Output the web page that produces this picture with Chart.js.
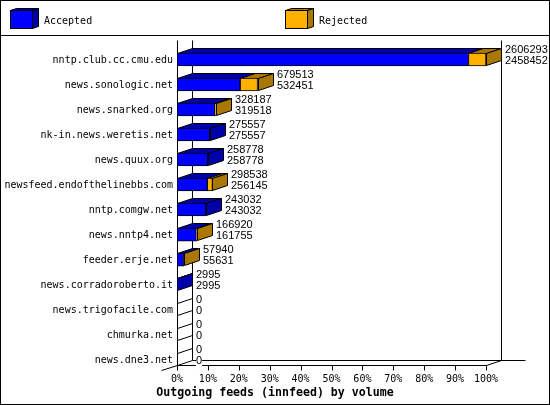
<!DOCTYPE html>
<html>
<head>
<meta charset="utf-8">
<title>Outgoing feeds</title>
<script src="https://cdn.jsdelivr.net/npm/chart.js@4"></script>
<style>
    body { margin: 0; background: #fff; }
    canvas { display: block; }
</style>
</head>
<body>
<canvas id="graficoFeeds" width="550" height="405"></canvas>
<script>
// datos
const hosts = ['nntp.club.cc.cmu.edu', 'news.sonologic.net', 'news.snarked.org', 'nk-in.news.weretis.net',
    'news.quux.org', 'newsfeed.endofthelinebbs.com', 'nntp.comgw.net', 'news.nntp4.net', 'feeder.erje.net',
    'news.corradoroberto.it', 'news.trigofacile.com', 'chmurka.net', 'news.dne3.net'];
const offered = [2606293, 679513, 328187, 275557, 258778, 298538, 243032, 166920, 57940, 2995, 0, 0, 0];
const accepted = [2458452, 532451, 319518, 275557, 258778, 256145, 243032, 161755, 55631, 2995, 0, 0, 0];
const rejected = [147841, 147062, 8669, 0, 0, 42393, 0, 5165, 2309, 0, 0, 0, 0];
const tickLabels = ['0%', '10%', '20%', '30%', '40%', '50%', '60%', '70%', '80%', '90%', '100%'];
const maxVolume = 2606293;

const AZUL = '#0000ff', AZUL_OSCURO = '#0000aa';
const NARANJA = '#ffb000', NARANJA_OSCURO = '#aa7800';
const MONO = '"DejaVu Sans Mono", monospace';
const DX = 15, DY = 5; // profundidad del efecto 3D

function linea(ctx, x1, y1, x2, y2) {
    ctx.beginPath();
    ctx.moveTo(x1 + 0.5, y1 + 0.5);
    ctx.lineTo(x2 + 0.5, y2 + 0.5);
    ctx.stroke();
}

// cara con cuatro puntos
function cara(ctx, puntos, color) {
    ctx.beginPath();
    puntos.forEach((p, i) => i ? ctx.lineTo(p[0] + 0.5, p[1] + 0.5) : ctx.moveTo(p[0] + 0.5, p[1] + 0.5));
    ctx.closePath();
    if (color) {
        ctx.fillStyle = color;
        ctx.fill();
    }
    ctx.stroke();
}

function cajaLeyenda(ctx, x, texto, claro, oscuro) {
    cara(ctx, [[x, 10], [x + 6, 8], [x + 28, 8], [x + 22, 10]], oscuro);
    cara(ctx, [[x + 22, 10], [x + 28, 8], [x + 28, 26], [x + 22, 28]], oscuro);
    ctx.fillStyle = claro;
    ctx.fillRect(x, 10, 22, 18);
    ctx.strokeRect(x + 0.5, 10.5, 22, 18);
    ctx.fillStyle = '#000';
    ctx.font = '10px ' + MONO;
    ctx.textAlign = 'left';
    ctx.textBaseline = 'middle';
    ctx.fillText(texto, x + 34, 21);
}

const barras3d = {
    id: 'barras3d',
    afterLayout(chart) {
        // el titulo va centrado en toda la imagen
        const t = chart.titleBlock;
        t.left = 0;
        t.right = chart.width;
        t.width = chart.width;
    },
    beforeDatasetsDraw(chart) {
        const ctx = chart.ctx;
        const xs = chart.scales.x;
        const x0 = Math.round(xs.getPixelForValue(0));
        const x100 = Math.round(xs.getPixelForValue(maxVolume));
        const piso = 365;
        ctx.save();
        ctx.strokeStyle = '#000';
        ctx.lineWidth = 1;

        // marco y leyenda
        ctx.strokeRect(0.5, 0.5, 549, 404);
        linea(ctx, 0, 35, 549, 35);
        cajaLeyenda(ctx, 10, chart.data.datasets[0].label, AZUL, AZUL_OSCURO);
        cajaLeyenda(ctx, 285, chart.data.datasets[1].label, NARANJA, NARANJA_OSCURO);

        // paredes y piso
        linea(ctx, x0 + DX, 40, x0 + DX, piso - DY);
        linea(ctx, x100 + DX, 40, x100 + DX, piso - DY);
        linea(ctx, x0 + DX, piso - DY, x100 + 39, piso - DY);
        linea(ctx, x0 - DX - 1, piso + DY, x0, piso);
        linea(ctx, x100, piso, x100 + DX, piso - DY);
        linea(ctx, x0, 40, x0, piso);
        linea(ctx, x0, piso, x100, piso);
        xs.ticks.forEach(t => {
            const x = Math.round(xs.getPixelForValue(t.value));
            linea(ctx, x, piso, x, piso + 5);
        });

        // caras superior y lateral de cada barra
        const metaA = chart.getDatasetMeta(0);
        hosts.forEach((h, i) => {
            const top = Math.round(metaA.data[i].y - 6.5), bottom = top + 12;
            const xA = Math.round(xs.getPixelForValue(accepted[i]));
            const xT = Math.round(xs.getPixelForValue(accepted[i] + rejected[i]));
            if (offered[i] === 0) {
                linea(ctx, x0, top, x0 + DX, top - DY);
                linea(ctx, x0, bottom, x0 + DX, bottom - DY);
                return;
            }
            cara(ctx, [[x0, top], [x0 + DX, top - DY], [xA + DX, top - DY], [xA, top]], AZUL_OSCURO);
            if (rejected[i] > 0) {
                cara(ctx, [[xA, top], [xA + DX, top - DY], [xT + DX, top - DY], [xT, top]], NARANJA_OSCURO);
            }
            cara(ctx, [[xT, top], [xT + DX, top - DY], [xT + DX, bottom - DY], [xT, bottom]],
                rejected[i] > 0 ? NARANJA_OSCURO : AZUL_OSCURO);
        });
        ctx.restore();
    },
    afterDatasetsDraw(chart) {
        const ctx = chart.ctx;
        const xs = chart.scales.x;
        const metaA = chart.getDatasetMeta(0);
        ctx.save();
        ctx.font = '11px "Liberation Sans", sans-serif';
        ctx.textAlign = 'left';
        ctx.textBaseline = 'middle';
        hosts.forEach((h, i) => {
            const x = Math.round(xs.getPixelForValue(offered[i])) + DX + 4;
            const y = metaA.data[i].y;
            [[offered[i], y - 9.5], [accepted[i], y + 1.5]].forEach(par => {
                const txt = String(par[0]);
                ctx.fillStyle = '#fff';
                ctx.fillRect(x, par[1] - 5, ctx.measureText(txt).width, 10);
                ctx.fillStyle = '#000';
                ctx.fillText(txt, x, par[1]);
            });
        });
        ctx.restore();
    }
};

new Chart(document.getElementById('graficoFeeds'), {
    type: 'bar',
    data: {
        labels: hosts,
        datasets: [{
            label: 'Accepted',
            data: accepted,
            backgroundColor: AZUL,
            borderColor: '#000',
            borderWidth: 1,
            borderSkipped: false,
            barThickness: 13
        }, {
            label: 'Rejected',
            data: rejected,
            backgroundColor: NARANJA,
            borderColor: '#000',
            borderWidth: 1,
            borderSkipped: false,
            barThickness: 13
        }]
    },
    options: {
        indexAxis: 'y',
        responsive: false,
        animation: false,
        devicePixelRatio: 1,
        layout: { padding: { top: 47, right: 64, bottom: 5, left: 0 } },
        plugins: {
            legend: { display: false },
            tooltip: { enabled: false },
            title: {
                display: true,
                position: 'bottom',
                text: 'Outgoing feeds (innfeed) by volume',
                color: '#000',
                padding: 0,
                font: { family: MONO, size: 11.6, weight: 'bold' }
            }
        },
        scales: {
            x: {
                stacked: true,
                min: 0,
                max: maxVolume,
                grid: { display: false, drawTicks: false },
                border: { display: false },
                afterBuildTicks: scale => {
                    scale.ticks = tickLabels.map((t, i) => ({ value: maxVolume * i / 10 }));
                },
                afterFit: scale => { scale.height = 14; },
                ticks: {
                    color: '#000',
                    padding: 1,
                    maxRotation: 0,
                    autoSkip: false,
                    font: { family: MONO, size: 10 },
                    callback: (v, i) => tickLabels[i]
                }
            },
            y: {
                stacked: true,
                grid: { display: false, drawTicks: false },
                border: { display: false },
                afterFit: scale => { scale.width = 177; },
                ticks: {
                    color: '#000',
                    padding: 4,
                    autoSkip: false,
                    labelOffset: 1,
                    font: { family: MONO, size: 10 }
                }
            }
        }
    },
    plugins: [barras3d]
});
</script>
</body>
</html>
